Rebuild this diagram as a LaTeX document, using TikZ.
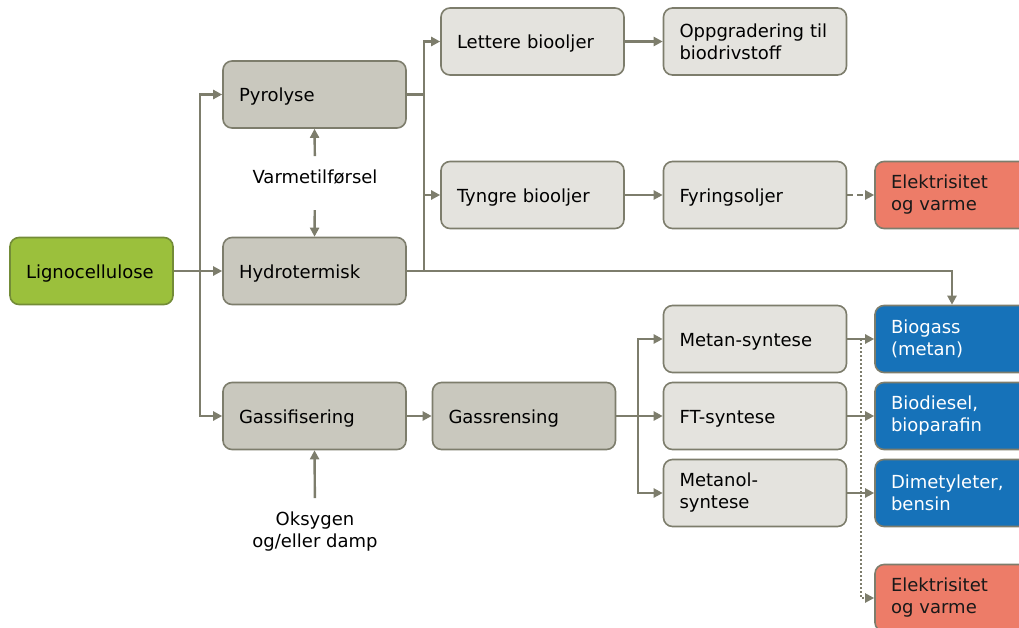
\documentclass[tikz,border=0pt]{standalone}
\usepackage{fontspec}
\setmainfont{DejaVu Sans}
\usetikzlibrary{arrows.meta}
\definecolor{linegray}{RGB}{125,125,108}
\definecolor{procfill}{RGB}{201,200,190}
\definecolor{prodfill}{RGB}{228,227,222}
\definecolor{feedfill}{RGB}{155,192,60}
\definecolor{feededge}{RGB}{115,140,55}
\definecolor{fuelblue}{RGB}{22,114,185}
\definecolor{powerred}{RGB}{237,124,104}
\tikzset{
  base/.style={draw=linegray, line width=1.6pt, rounded corners=9pt,
    inner xsep=16pt, inner ysep=0pt, minimum height=67pt, align=left,
    font=\fontsize{18}{22}\selectfont},
  oneline/.style={text height=14pt, text depth=0pt},
  procbox/.style={base, fill=procfill, text width=151pt, minimum width=183pt},
  prodbox/.style={base, fill=prodfill, text width=151pt, minimum width=183pt},
  feedbox/.style={base, draw=feededge, fill=feedfill, text width=131pt, minimum width=163pt},
  fuelbox/.style={base, fill=fuelblue, text=white, text width=122pt, minimum width=154pt},
  powerbox/.style={base, fill=powerred, text=black!90, text width=122pt, minimum width=154pt},
  note/.style={inner sep=0pt, align=center, font=\fontsize{18}{22}\selectfont},
  link/.style={draw=linegray, line width=2.4pt},
  arr/.style={link, -{Triangle[length=9pt,width=9pt]}},
  dashlink/.style={arr, dash pattern=on 6pt off 4pt},
  dotlink/.style={arr, line width=2pt, dash pattern=on 2pt off 2pt},
}
\begin{document}
\begin{tikzpicture}[x=1pt,y=-1pt]
\useasboundingbox (0,0) rectangle (1019,627);

% feedstock and conversion routes
\node[feedbox, oneline] (lig) at (91.5,271) {Lignocellulose};
\node[procbox, oneline] (pyr) at (314.5,94.5) {Pyrolyse};
\node[procbox, oneline] (hyd) at (314.5,271) {Hydrotermisk};
\node[procbox, oneline] (gas) at (314.5,416) {Gassifisering};
\node[procbox, oneline] (grn) at (524,416) {Gassrensing};

% bio-oil chain
\node[prodbox, oneline] (lett) at (532.5,41.5) {Lettere biooljer};
\node[prodbox] (oppg) at (755,41.5) {Oppgradering til\\biodrivstoff};
\node[prodbox, oneline] (tyng) at (532.5,195) {Tyngre biooljer};
\node[prodbox, oneline] (fyr) at (755,195) {Fyringsoljer};
\node[powerbox] (el1) at (952,195) {Elektrisitet\\og varme};

% synthesis chain
\node[prodbox, oneline] (mets) at (755,339) {Metan-syntese};
\node[prodbox, oneline] (ft) at (755,416) {FT-syntese};
\node[prodbox] (metol) at (755,493) {Metanol-\\syntese};
\node[fuelbox] (biog) at (952,339) {Biogass\\(metan)};
\node[fuelbox] (bdie) at (952,416) {Biodiesel,\\bioparafin};
\node[fuelbox] (dme) at (952,493) {Dimetyleter,\\bensin};
\node[powerbox] (el2) at (952,598) {Elektrisitet\\og varme};

% process inputs
\node[note, anchor=base] (varme) at (315,183) {Varmetilførsel};
\node[note, anchor=north] (oks) at (315,512) {Oksygen\\og/eller damp};

% junction points
\coordinate (j1) at (200,271);
\coordinate (j2) at (424,271);
\coordinate (j3) at (638,416);
\coordinate (j4) at (861,339);

% feedstock to routes
\draw[arr] (lig.east) -- (hyd.west);
\draw[arr] (j1) |- (pyr.west);
\draw[arr] (j1) |- (gas.west);

% heat input
\draw[arr, shorten <=13pt] (varme.north) -- (pyr.south);
\draw[arr, shorten <=26pt] (varme.south) -- (hyd.north);

% pyrolysis / hydrothermal products
\draw[link] (pyr.east) -| (j2);
\draw[arr] (j2) |- (lett.west);
\draw[arr] (j2) |- (tyng.west);
\draw[arr] (hyd.east) -| (biog.north);
\draw[arr] (lett) -- (oppg);
\draw[arr] (tyng) -- (fyr);
\draw[dashlink] (fyr) -- (el1);

% gasification route
\draw[arr, shorten <=14pt] (oks.north) -- (gas.south);
\draw[arr] (gas) -- (grn);
\draw[link] (grn.east) -- (j3);
\draw[arr] (j3) |- (mets.west);
\draw[arr] (j3) -- (ft.west);
\draw[arr] (j3) |- (metol.west);
\draw[arr] (mets) -- (biog);
\draw[arr] (ft) -- (bdie);
\draw[arr] (metol) -- (dme);
\draw[dotlink] (j4) |- (el2.west);
\end{tikzpicture}
\end{document}
